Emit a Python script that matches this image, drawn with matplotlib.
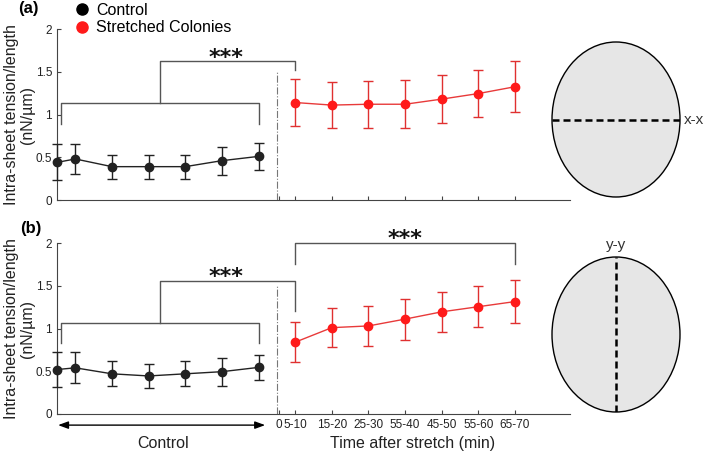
import matplotlib
matplotlib.use("Agg")
import matplotlib.pyplot as plt
from matplotlib.lines import Line2D
from matplotlib.patches import Ellipse

plt.rcParams['font.family'] = ['Liberation Sans', 'DejaVu Sans']

# time positions (control block sits left of the stretch onset)
control_x = [-5.5, -5, -4, -3, -2, -1, 0]
stretch_x = [1, 2, 3, 4, 5, 6, 7]
tick_pos = [0.55, 1, 2, 3, 4, 5, 6, 7]
tick_labels = ["0", "5-10", "15-20", "25-30", "55-40", "45-50", "55-60", "65-70"]

# panel (a): x-x direction
ctrl_a = [0.44, 0.48, 0.39, 0.39, 0.39, 0.46, 0.51]
ctrl_a_err = [0.21, 0.18, 0.14, 0.14, 0.14, 0.165, 0.155]
str_a = [1.14, 1.11, 1.12, 1.12, 1.18, 1.245, 1.325]
str_a_err = [0.28, 0.27, 0.275, 0.28, 0.28, 0.28, 0.295]

# panel (b): y-y direction
ctrl_b = [0.52, 0.54, 0.47, 0.445, 0.47, 0.495, 0.545]
ctrl_b_err = [0.21, 0.18, 0.145, 0.14, 0.145, 0.165, 0.15]
str_b = [0.84, 1.01, 1.03, 1.11, 1.195, 1.255, 1.315]
str_b_err = [0.235, 0.23, 0.23, 0.24, 0.235, 0.24, 0.25]

RED = '#ff1a1a'
GREY = '#555555'

W, H = 708, 453
fig = plt.figure(figsize=(W / 100, H / 100), dpi=100)


def px_axes(x0, y_top, w, h):
    return fig.add_axes([x0 / W, 1 - (y_top + h) / H, w / W, h / H])


def draw_panel(ax, cy, cerr, sy, serr):
    ax.errorbar(control_x, cy, yerr=cerr, color='#222222', ecolor='#222222',
                marker='o', ms=6, lw=1, capsize=3.5, elinewidth=1, clip_on=False, zorder=3)
    ax.errorbar(stretch_x, sy, yerr=serr, color='#e83a3a', ecolor='#e03030',
                marker='o', mfc=RED, mec=RED, ms=6, lw=1, capsize=3.5, elinewidth=1,
                clip_on=False, zorder=3)
    ax.plot([0.5, 0.5], [0, 1.5], ls='-.', color='#777777', lw=0.8)
    ax.set_xlim(-5.5, 8.5)
    ax.set_ylim(0, 2)
    ax.set_yticks([0, 0.5, 1, 1.5, 2])
    ax.set_yticklabels(["0", "0.5", "1", "1.5", "2"])
    ax.set_xticks(tick_pos)
    for s in ['top', 'right']:
        ax.spines[s].set_visible(False)
    for s in ['left', 'bottom']:
        ax.spines[s].set_color('#444444')
    ax.tick_params(direction='in', length=3, labelsize=8.5, colors='#444444',
                   labelcolor='#222222')
    ax.set_ylabel("Intra-sheet tension/length\n(nN/µm)", fontsize=11.5,
                  linespacing=1.05, color='#222222')
    ax.yaxis.set_label_coords(-0.043, 0.5)


def bracket(ax, xs, ys):
    ax.plot(xs, ys, color=GREY, lw=1, clip_on=False)


def stars(ax, x, y):
    ax.text(x, y, "***", fontsize=16, family='DejaVu Sans', fontweight='bold',
            ha='center', va='center', color='#111111', clip_on=False)


ax_a = px_axes(57, 29, 513, 171)
draw_panel(ax_a, ctrl_a, ctrl_a_err, str_a, str_a_err)
ax_a.set_xticklabels([])
bracket(ax_a, [-5.4, -5.4, 0, 0], [0.89, 1.13, 1.13, 0.89])
bracket(ax_a, [-2.7, -2.7, 1, 1], [1.13, 1.62, 1.62, 1.52])
stars(ax_a, -0.9, 1.665)

ax_b = px_axes(57, 243, 513, 171)
draw_panel(ax_b, ctrl_b, ctrl_b_err, str_b, str_b_err)
ax_b.set_xticklabels(tick_labels)
bracket(ax_b, [-5.4, -5.4, 0, 0], [0.83, 1.06, 1.06, 0.83])
bracket(ax_b, [-2.7, -2.7, 1, 1], [1.06, 1.56, 1.56, 1.2])
stars(ax_b, -0.9, 1.60)
bracket(ax_b, [1, 1, 7, 7], [1.755, 2.0, 2.0, 1.755])
stars(ax_b, 4.0, 2.05)

ax_b.annotate('', xy=(-5.47, -0.13), xytext=(0.18, -0.13), xycoords='data',
              arrowprops=dict(arrowstyle='<|-|>,head_length=0.6,head_width=0.22',
                              color='black', lw=1, shrinkA=0, shrinkB=0),
              annotation_clip=False)
ax_b.text(-2.6, -0.34, "Control", fontsize=11.5, ha='center', va='center',
          color='#222222', clip_on=False)
ax_b.text(4.2, -0.34, "Time after stretch (min)", fontsize=11.5, ha='center',
          va='center', color='#222222', clip_on=False)

fig.text(18 / W, 1 - 9 / H, "(a)", fontsize=12, fontweight='bold', va='center')
fig.text(20 / W, 1 - 229 / H, "(b)", fontsize=12, fontweight='bold', va='center')

handles = [Line2D([], [], ls='none', marker='o', ms=8, color='black', label='Control'),
           Line2D([], [], ls='none', marker='o', ms=8, color=RED, label='Stretched Colonies')]
fig.legend(handles=handles, loc='upper left', bbox_to_anchor=(74 / W, 1 - 3 / H),
           frameon=False, fontsize=11.5, handlelength=1.0, handletextpad=0.4,
           labelspacing=0.15, borderpad=0, borderaxespad=0)

# cross-section sketches
for top, horiz, lab in [(42, True, "x-x"), (257, False, "y-y")]:
    e_ax = px_axes(552, top, 128, 155)
    e_ax.set_xlim(0, 1)
    e_ax.set_ylim(0, 1)
    e_ax.axis('off')
    e_ax.add_patch(Ellipse((0.5, 0.5), 1, 1, fc='#e6e6e6', ec='black', lw=1,
                           clip_on=False))
    if horiz:
        e_ax.plot([0, 1], [0.5, 0.5], ls=(0, (2.8, 1.6)), lw=1.8, color='black')
        e_ax.text(1.03, 0.5, lab, fontsize=11, va='center', ha='left', color='#333333')
    else:
        e_ax.plot([0.5, 0.5], [0, 1], ls=(0, (2.8, 1.6)), lw=1.8, color='black')
        e_ax.text(0.5, 1.03, lab, fontsize=11, va='bottom', ha='center', color='#333333')

fig.savefig("out.png", dpi=100)
